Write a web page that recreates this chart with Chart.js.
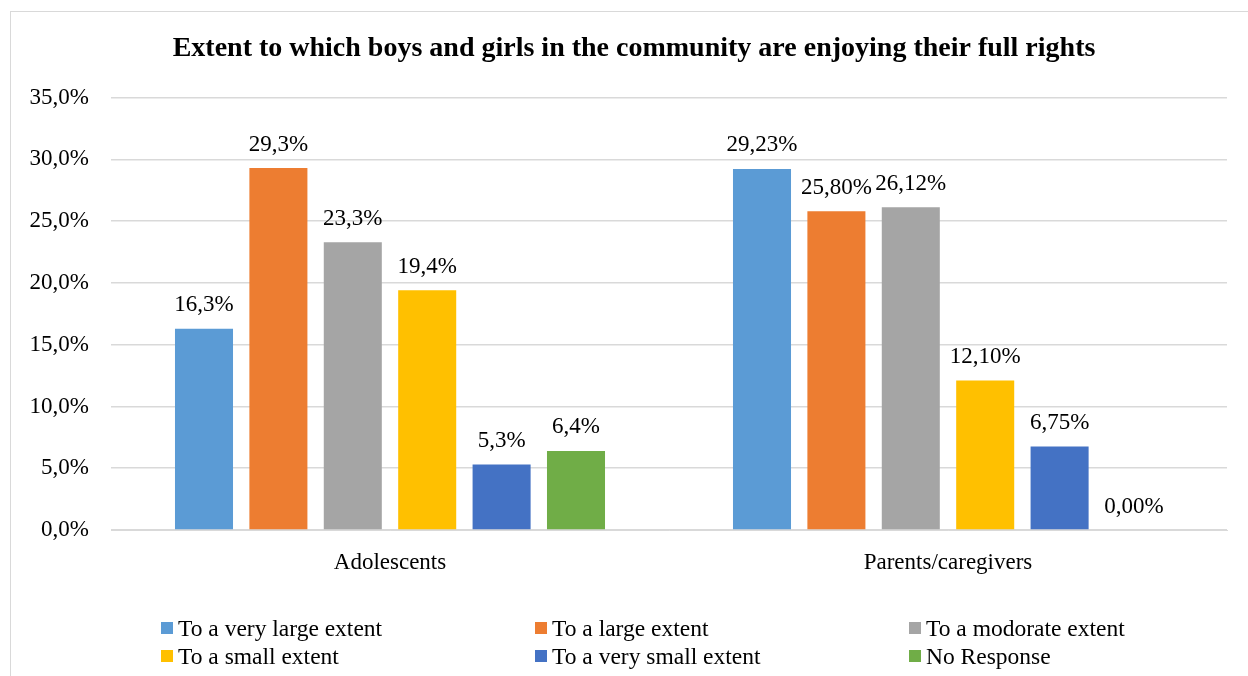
<!DOCTYPE html>
<html>
<head>
<meta charset="utf-8">
<script src="https://cdn.jsdelivr.net/npm/chart.js@4/dist/chart.umd.min.js"></script>
<style>
  body { margin: 0; background: #fff; }
  #wrap { position: relative; width: 1248px; height: 676px; overflow: hidden; background: #fff; }
  #frame { position: absolute; left: 10px; top: 11px; width: 1300px; height: 700px; border: 1px solid #d9d9d9; box-sizing: border-box; }
  #bar { position: absolute; left: 0; top: 0; }
  #legend { position: absolute; left: 0; top: 614px; width: 1248px; font-family: "Liberation Serif", "Times New Roman", serif; font-size: 23.5px; color: #000; }
  .item { position: absolute; white-space: nowrap; line-height: 28px; }
  .item span.box { display: inline-block; width: 12px; height: 12px; margin-right: 5px; vertical-align: 2px; }
</style>
</head>
<body>
<div id="wrap">
  <div id="frame"></div>
  <canvas id="bar" width="1248" height="676"></canvas>
  <div id="legend"></div>
</div>
<script>
const categories = ['Adolescents', 'Parents/caregivers'];
const decimals = [1, 2];
const seriesNames = ['To a very large extent', 'To a large extent', 'To a modorate extent', 'To a small extent', 'To a very small extent', 'No Response'];
const veryLarge = [16.3, 29.23];
const large = [29.3, 25.80];
const moderate = [23.3, 26.12];
const small = [19.4, 12.10];
const verySmall = [5.3, 6.75];
const noResponse = [6.4, 0.00];
const colors = ['#5B9BD5', '#ED7D31', '#A5A5A5', '#FFC000', '#4472C4', '#70AD47'];
const yTicks = [0, 5, 10, 15, 20, 25, 30, 35];

const allValues = [veryLarge, large, moderate, small, verySmall, noResponse];
const fontFamily = '"Liberation Serif", "Times New Roman", serif';

const fmt = (v, d) => v.toFixed(d).replace('.', ',') + '%';

// value labels above each bar
const barLabels = {
    id: 'barLabels',
    afterDatasetsDraw(chart) {
        const ctx = chart.ctx;
        ctx.save();
        ctx.font = '23px ' + fontFamily;
        ctx.fillStyle = '#000';
        ctx.textAlign = 'center';
        ctx.textBaseline = 'bottom';
        chart.data.datasets.forEach((ds, i) => {
            chart.getDatasetMeta(i).data.forEach((el, j) => {
                ctx.fillText(fmt(ds.data[j], decimals[j]), el.x, el.y - 12);
            });
        });
        ctx.restore();
    }
};

const ctx = document.getElementById('bar').getContext('2d');

new Chart(ctx, {
    type: 'bar',
    data: {
        labels: categories,
        datasets: seriesNames.map((name, i) => ({
            label: name,
            data: allValues[i],
            backgroundColor: colors[i],
            yAxisID: 'y',
            barPercentage: 0.78,
            categoryPercentage: 0.8
        }))
    },
    options: {
        responsive: false,
        animation: false,
        layout: { padding: { left: 30, right: 10, top: 12, bottom: 96 } },
        plugins: {
            legend: { display: false },
            tooltip: { enabled: false },
            title: {
                display: true,
                text: 'Extent to which boys and girls in the community are enjoying their full rights',
                color: '#000',
                font: { family: fontFamily, size: 28, weight: 'bold' },
                padding: { top: 20, bottom: 32 }
            }
        },
        scales: {
            x: {
                grid: { display: false },
                border: { color: '#d9d9d9' },
                ticks: { color: '#000', font: { family: fontFamily, size: 23 }, padding: 11 },
                afterFit: s => { s.height = 50; }
            },
            y: {
                min: 0,
                max: 35,
                afterBuildTicks: s => { s.ticks = yTicks.map(v => ({ value: v })); },
                grid: { color: '#d9d9d9', lineWidth: 1.5, drawTicks: false },
                border: { display: false },
                ticks: {
                    color: '#000',
                    font: { family: fontFamily, size: 23 },
                    padding: 22,
                    callback: v => fmt(v, 1)
                },
                afterFit: s => { s.width = 81; }
            },
            // empty spacer on the right so the plot ends where the reference does
            spacer: {
                type: 'linear',
                position: 'right',
                grid: { display: false },
                border: { display: false },
                ticks: { display: false },
                afterFit: s => { s.width = 11; }
            }
        }
    },
    plugins: [barLabels]
});

// legend in three columns
const legendCols = [161, 535, 909];
const legend = document.getElementById('legend');
seriesNames.forEach((name, i) => {
    const item = document.createElement('div');
    item.className = 'item';
    item.style.left = legendCols[i % 3] + 'px';
    item.style.top = (Math.floor(i / 3) * 28) + 'px';
    item.innerHTML = '<span class="box" style="background:' + colors[i] + '"></span>' + name;
    legend.appendChild(item);
});
</script>
</body>
</html>
